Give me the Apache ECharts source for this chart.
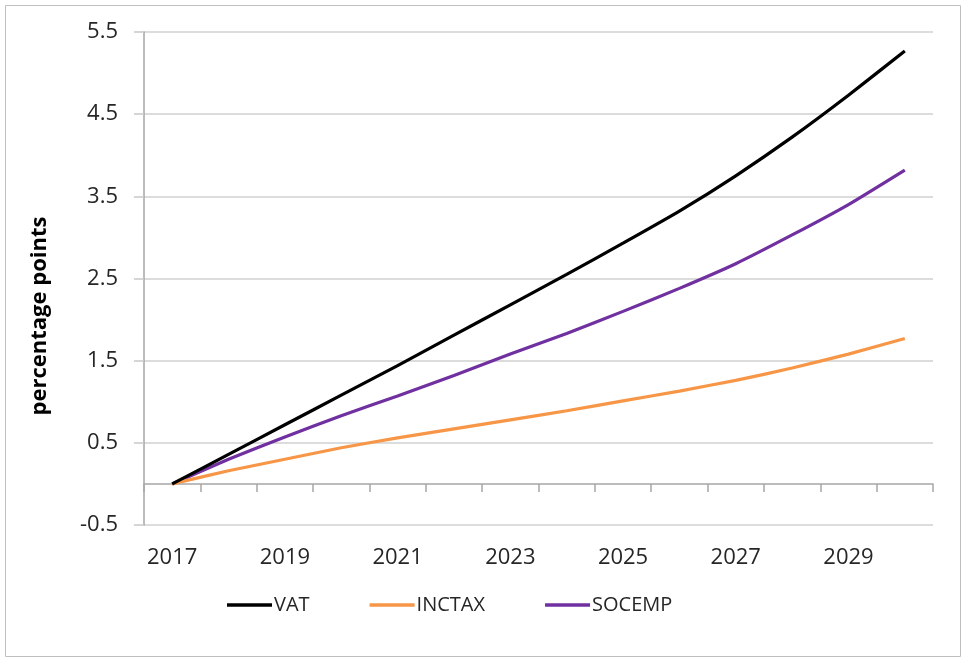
<!DOCTYPE html>
<html>
<head>
<meta charset="utf-8">
<script src="https://cdn.jsdelivr.net/npm/echarts@6/dist/echarts.min.js"></script>
<style>
html,body{margin:0;padding:0;background:#fff;}
#chart{width:963px;height:657px;}
</style>
</head>
<body>
<div id="chart"></div>
<script>
const years = ['2017','2018','2019','2020','2021','2022','2023','2024','2025','2026','2027','2028','2029','2030'];
const vat = [0, 0.36, 0.72, 1.08, 1.44, 1.81, 2.18, 2.55, 2.93, 3.32, 3.75, 4.22, 4.73, 5.27];
const inctax = [0, 0.16, 0.30, 0.44, 0.56, 0.67, 0.78, 0.89, 1.01, 1.13, 1.26, 1.41, 1.58, 1.77];
const socemp = [0, 0.30, 0.57, 0.83, 1.07, 1.32, 1.58, 1.83, 2.10, 2.38, 2.68, 3.03, 3.40, 3.82];
const seriesNames = ['VAT', 'INCTAX', 'SOCEMP'];
const seriesColors = ['#000000', '#f79646', '#7030a0'];
const yMin = -0.5, yMax = 5.5, yStep = 1;
const yTitle = 'percentage points';

const chart = echarts.init(document.getElementById('chart'), null, {renderer: 'canvas'});
const font = '"Open Sans", "DejaVu Sans", sans-serif';
const dataSets = [vat, inctax, socemp];

chart.setOption({
  animation: false,
  backgroundColor: '#ffffff',
  textStyle: {fontFamily: font},
  graphic: [
    {type: 'rect', left: 3, top: 3, shape: {x: 0.5, y: 0.5, width: 955, height: 651},
     style: {fill: 'none', stroke: '#bfbfbf', lineWidth: 1}, silent: true},
    {type: 'text', x: 40, y: 316, rotation: Math.PI / 2,
     style: {text: yTitle, font: 'bold 22px ' + font, fill: '#000', align: 'center', verticalAlign: 'middle'}}
  ],
  grid: {left: 144, right: 30, top: 32, bottom: 132, containLabel: false},
  legend: {
    data: seriesNames,
    left: 222, top: 590,
    icon: 'rect', itemWidth: 45, itemHeight: 3.5, itemGap: 60,
    textStyle: {fontSize: 20, color: '#262626', fontFamily: font, padding: [0, 0, 0, -3]}
  },
  xAxis: [
    {
      type: 'category', data: years, position: 'bottom', boundaryGap: true,
      axisLine: {show: false, onZero: false},
      axisTick: {show: false},
      axisLabel: {interval: 1, fontSize: 22, color: '#262626', margin: 22, fontFamily: font},
      splitLine: {show: false}
    },
    {
      type: 'category', data: years, position: 'bottom', boundaryGap: true,
      axisLine: {show: true, onZero: true, lineStyle: {color: '#a6a6a6', width: 1.5}},
      axisTick: {show: true, interval: 0, length: 8, inside: false, lineStyle: {color: '#a6a6a6', width: 1.5}},
      axisLabel: {show: false},
      splitLine: {show: false}
    }
  ],
  yAxis: {
    type: 'value', min: yMin, max: yMax, interval: yStep,
    axisLine: {show: true, lineStyle: {color: '#a6a6a6', width: 1.5}},
    axisTick: {show: true, length: 10, lineStyle: {color: '#c8c8c8', width: 1.5}},
    axisLabel: {fontSize: 22, color: '#262626', margin: 26, fontFamily: font,
      formatter: v => v.toFixed(1)},
    splitLine: {show: true, lineStyle: {color: '#d0d0d0', width: 1.5}}
  },
  series: seriesNames.map((n, i) => ({
    name: n, type: 'line', xAxisIndex: 0, data: dataSets[i],
    showSymbol: false, symbol: 'none', smooth: 0.15,
    lineStyle: {color: seriesColors[i], width: 3.2},
    itemStyle: {color: seriesColors[i]},
    z: 10 - i
  }))
});
</script>
</body>
</html>
